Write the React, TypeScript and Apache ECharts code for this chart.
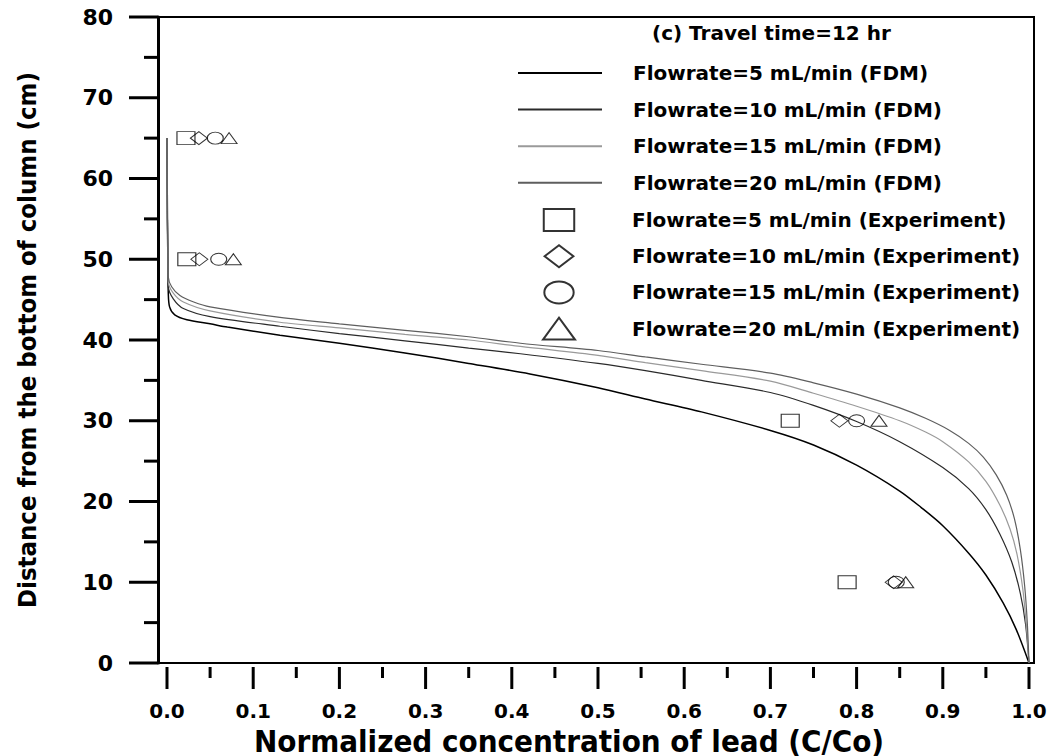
import React, { useEffect, useRef } from "react";
import * as echarts from "echarts";

const FONT = "'DejaVu Sans', sans-serif";
const NARROW = "'DejaVu Sans Condensed', 'DejaVu Sans', sans-serif";

const xTicks = { min: 0, max: 1, interval: 0.1, minorInterval: 0.05 };
const yTicks = { min: 0, max: 80, interval: 10, minorInterval: 5 };

const lineNames = [
  "Flowrate=5 mL/min (FDM)",
  "Flowrate=10 mL/min (FDM)",
  "Flowrate=15 mL/min (FDM)",
  "Flowrate=20 mL/min (FDM)",
];
const expNames = [
  "Flowrate=5 mL/min (Experiment)",
  "Flowrate=10 mL/min (Experiment)",
  "Flowrate=15 mL/min (Experiment)",
  "Flowrate=20 mL/min (Experiment)",
];

const fdm5: number[][] = [
  [0, 65], [0.0005, 55], [0.001, 50], [0.0015, 45.8], [0.003, 44.1], [0.009, 43.1],
  [0.023, 42.5], [0.05, 42.0], [0.07, 41.6], [0.131, 40.6], [0.2, 39.6], [0.276, 38.4],
  [0.35, 37.1], [0.421, 35.8], [0.5, 34.1], [0.555, 32.7], [0.62, 31.1], [0.7, 28.8],
  [0.75, 27.0], [0.8, 24.5], [0.85, 21.3], [0.875, 19.25], [0.9, 17.0], [0.93, 13.6],
  [0.95, 10.9], [0.97, 7.45], [0.985, 4.2], [1.0, 0],
];
const fdm10: number[][] = [
  [0, 65], [0.0005, 55], [0.001, 50], [0.0015, 46.6], [0.0073, 45.1], [0.019, 43.9],
  [0.05, 42.9], [0.131, 41.7], [0.2, 40.8], [0.276, 39.9], [0.35, 39.0], [0.41, 38.3],
  [0.5, 37.1], [0.555, 36.2], [0.62, 35.0], [0.7, 33.5], [0.75, 31.9], [0.8, 29.9],
  [0.85, 27.4], [0.9, 24.2], [0.93, 21.6], [0.95, 19.0], [0.966, 16.0], [0.98, 12.5],
  [0.99, 8.6], [0.996, 4.8], [1, 0],
];
const fdm15: number[][] = [
  [0, 65], [0.0005, 55], [0.001, 50.5], [0.0015, 47.2], [0.0073, 45.8], [0.019, 44.7],
  [0.05, 43.6], [0.131, 42.2], [0.2, 41.5], [0.276, 40.7], [0.35, 40.0], [0.41, 39.2],
  [0.5, 38.1], [0.555, 37.2], [0.62, 36.2], [0.7, 34.9], [0.75, 33.4], [0.8, 31.8],
  [0.85, 30.0], [0.88, 28.6], [0.9, 27.4], [0.93, 24.9], [0.95, 22.5], [0.966, 19.6],
  [0.978, 16.6], [0.986, 13.5], [0.993, 9.0], [0.997, 4.5], [1, 0],
];
const fdm20: number[][] = [
  [0, 65], [0.0005, 55], [0.001, 51], [0.0015, 47.8], [0.0054, 46.6], [0.015, 45.5],
  [0.031, 44.7], [0.05, 44.1], [0.131, 42.8], [0.2, 42.0], [0.276, 41.2], [0.35, 40.4],
  [0.41, 39.6], [0.5, 38.7], [0.555, 37.9], [0.62, 37.0], [0.7, 35.9], [0.75, 34.7],
  [0.8, 33.3], [0.85, 31.6], [0.88, 30.3], [0.908, 28.8], [0.93, 27.2], [0.947, 25.5],
  [0.962, 23.3], [0.974, 20.8], [0.983, 17.9], [0.99, 14.0], [0.995, 9.5], [0.998, 5.0],
  [1, 0],
];

const exp5: number[][] = [[0.022, 65], [0.023, 50], [0.723, 30], [0.789, 10]];
const exp10: number[][] = [[0.037, 65], [0.0375, 50], [0.78, 30], [0.843, 10]];
const exp15: number[][] = [[0.056, 65], [0.06, 50], [0.8, 30], [0.846, 10]];
const exp20: number[][] = [[0.072, 65], [0.077, 50], [0.826, 30], [0.857, 10]];

const lineColors = ["#000000", "#2a2a2a", "#9a9a9a", "#5e5e5e"];
const lineWidths = [1.5, 1.2, 1.2, 1.2];

const SQUARE = "path://M0,0H18V13H0Z";
const DIAMOND = "path://M0,6.5L8.5,0L17,6.5L8.5,13Z";
const ELLIPSE = "path://M0,6a8,6 0 1,0 16,0a8,6 0 1,0 -16,0z";
const TRIANGLE = "path://M0,11L8,0L16,11Z";
const expSymbols = [SQUARE, DIAMOND, ELLIPSE, TRIANGLE];
const expSizes = [[18, 13], [17, 13], [16, 12], [16, 11]];

function steps(min: number, max: number, step: number): number[] {
  const out: number[] = [];
  const n = Math.round((max - min) / step);
  for (let i = 0; i <= n; i++) out.push(+(min + i * step).toFixed(6));
  return out;
}

export default function App() {
  const ref = useRef<HTMLDivElement>(null);
  useEffect(() => {
    document.body.style.margin = "0";
    if (!ref.current) return;
    const chart = echarts.init(ref.current, undefined, { renderer: "svg" });
    const lineData = [fdm5, fdm10, fdm15, fdm20];
    const expData = [exp5, exp10, exp15, exp20];
    const series: any[] = [];
    lineNames.forEach((n, i) => {
      series.push({
        name: n,
        type: "line",
        xAxisIndex: 1,
        yAxisIndex: 1,
        data: lineData[i],
        symbol: "none",
        smooth: 0.3,
        lineStyle: { color: lineColors[i], width: lineWidths[i] },
        itemStyle: { color: lineColors[i] },
        z: 2,
      });
    });
    expNames.forEach((n, i) => {
      series.push({
        name: n,
        type: "scatter",
        xAxisIndex: 1,
        yAxisIndex: 1,
        data: expData[i],
        symbol: expSymbols[i],
        symbolSize: expSizes[i],
        itemStyle: { color: "rgba(255,255,255,0)", borderColor: "#000", borderWidth: 1 },
        z: 3,
      });
    });
    const boldText = { fontFamily: FONT, fontWeight: "bold" as const, color: "#000" };
    const legendCommon = {
      orient: "vertical",
      padding: 0,
      itemWidth: 84,
      itemHeight: 22,
      symbolKeepAspect: true,
      textStyle: { ...boldText, fontSize: 20, lineHeight: 22, padding: [0, 0, 0, 26] },
    };

    chart.setOption({
      animation: false,
      backgroundColor: "#fff",
      title: {
        text: "(c) Travel time=12 hr",
        left: 652,
        top: 23,
        padding: 0,
        textStyle: { ...boldText, fontSize: 20 },
      },
      legend: [
        {
          ...legendCommon,
          left: 517,
          top: 62,
          itemGap: 14.6,
          data: lineNames.map((n) => ({ name: n, itemStyle: { opacity: 0 } })),
        },
        {
          ...legendCommon,
          left: 542,
          top: 208,
          itemGap: 12.2,
          data: expNames,
        },
      ],
      grid: [
        { left: 158, right: 18, top: 17, bottom: 93, show: true, borderColor: "#000", borderWidth: 2, backgroundColor: "transparent", outerBoundsMode: "none", containLabel: false },
        { left: 167, right: 23, top: 17, bottom: 93, outerBoundsMode: "none", containLabel: false },
      ],
      xAxis: [
        { gridIndex: 0, type: "value", min: 0, max: 1, show: false },
        {
          gridIndex: 1,
          type: "value",
          min: xTicks.min,
          max: xTicks.max,
          interval: xTicks.interval,
          offset: 4,
          axisLine: { show: false },
          axisTick: { show: false },
          minorTick: { show: false },
          splitLine: { show: false },
          axisLabel: { ...boldText, fontSize: 20, margin: 34, formatter: (v: number) => v.toFixed(1) },
          name: "Normalized concentration of lead (C/Co)",
          nameLocation: "middle",
          nameGap: 52,
          nameTextStyle: { fontFamily: NARROW, fontWeight: "bold", color: "#000", fontSize: 31, lineHeight: 31, padding: [0, 58, 0, 0] },
        },
      ],
      yAxis: [
        {
          gridIndex: 0,
          type: "value",
          min: yTicks.min,
          max: yTicks.max,
          interval: yTicks.interval,
          axisLine: { show: true, lineStyle: { width: 3, color: "#000" } },
          axisTick: { show: false },
          minorTick: { show: false },
          splitLine: { show: false },
          axisLabel: { ...boldText, fontSize: 22, margin: 45 },
          name: "Distance from the bottom of column (cm)",
          nameLocation: "middle",
          nameRotate: 90,
          nameGap: 118,
          nameTextStyle: { fontFamily: NARROW, fontWeight: "bold", color: "#000", fontSize: 25.5 },
        },
        { gridIndex: 1, type: "value", min: 0, max: 80, show: false },
      ],
      series,
    });

    // Tick marks, positioned through the axes' own scales (drawn as thin filled bars).
    const yAxisX = chart.convertToPixel({ xAxisIndex: 0 }, 0) as number;
    const xAxisY = chart.convertToPixel({ yAxisIndex: 1 }, 0) as number;
    const ticks: any[] = [];
    const addY = (v: number, len: number) => {
      const py = chart.convertToPixel({ yAxisIndex: 0 }, v) as number;
      ticks.push({ type: "rect", z: 200, silent: true, shape: { x: yAxisX - len, y: py - 1.5, width: len, height: 3 }, style: { fill: "#000" } });
    };
    const addX = (v: number, len: number) => {
      const px = chart.convertToPixel({ xAxisIndex: 1 }, v) as number;
      ticks.push({ type: "rect", z: 200, silent: true, shape: { x: px - 1.5, y: xAxisY + 4, width: 3, height: len }, style: { fill: "#000" } });
    };
    steps(yTicks.min, yTicks.max, yTicks.minorInterval).forEach((v, i) => addY(v, i % 2 === 0 ? 29 : 14));
    steps(xTicks.min, xTicks.max, xTicks.minorInterval).forEach((v, i) => addX(v, i % 2 === 0 ? 22 : 11));
    chart.setOption({ graphic: { elements: ticks } });

    return () => chart.dispose();
  }, []);
  return (
    <div
      ref={ref}
      style={{ position: "absolute", left: 0, top: 0, width: 1052, height: 756, background: "#fff" }}
    />
  );
}
